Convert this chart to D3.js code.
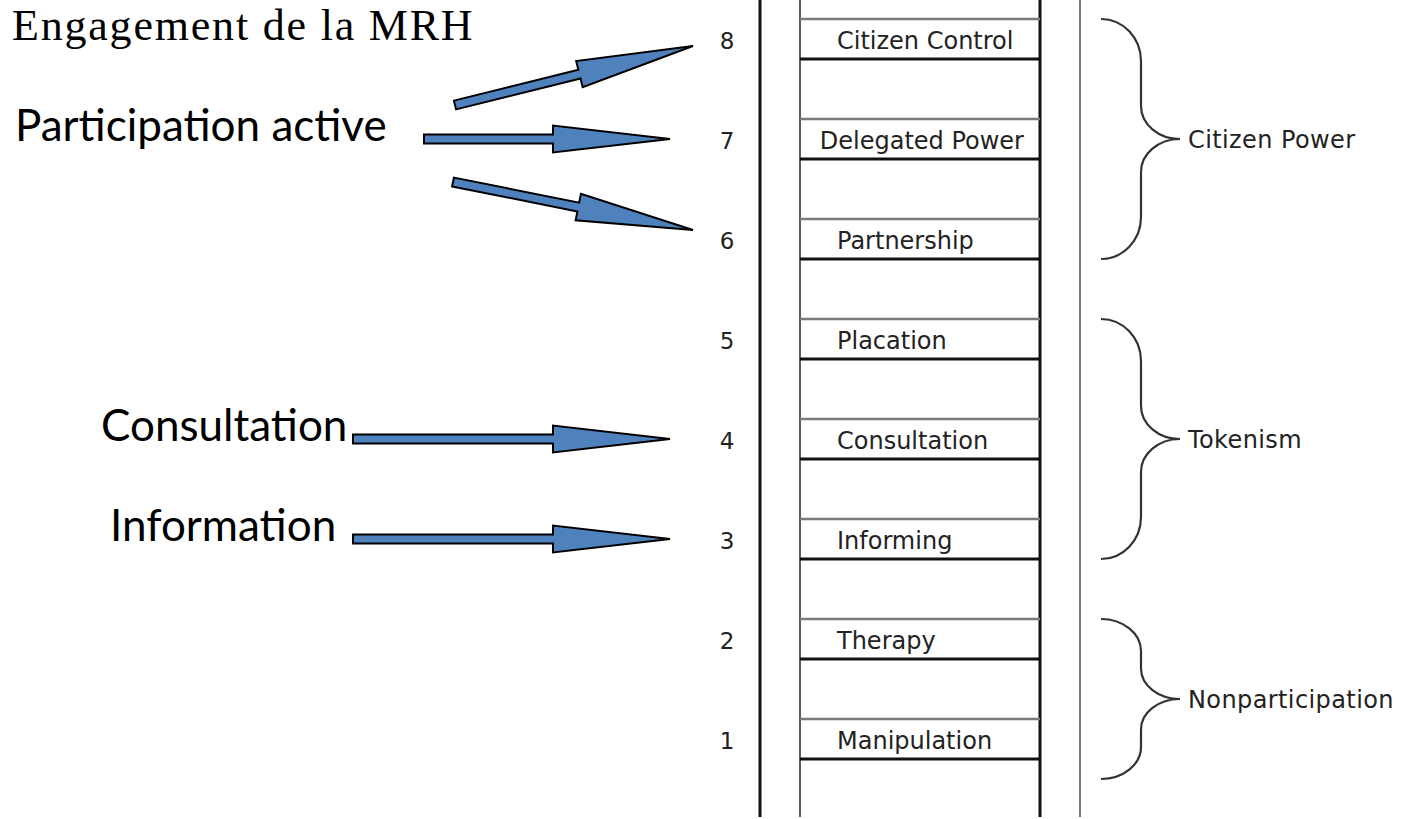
<!DOCTYPE html>
<html>
<head>
<meta charset="utf-8">
<script src="https://cdn.jsdelivr.net/npm/d3@7/dist/d3.min.js"></script>
<style>
	html, body { margin: 0; padding: 0; background: #fff; }
	svg { display: block; }
</style>
</head>
<body>
<div id="container"><svg></svg></div>
<script>
const WIDTH = 1404, HEIGHT = 819;

// DATA
// ladder rungs, from bottom (1) to top (8)
const LEVELS = [1, 2, 3, 4, 5, 6, 7, 8];
const RUNG_LABELS = ["Manipulation", "Therapy", "Informing", "Consultation", "Placation", "Partnership", "Delegated Power", "Citizen Control"];

// braces on the right: name and extent in ladder units
const GROUPS = ["Nonparticipation", "Tokenism", "Citizen Power"];
const GROUP_TOP = [2.2, 5.2, 8.2];
const GROUP_BOTTOM = [0.6, 2.8, 5.8];

// labels on the left and the arrows pointing at the ladder
const TITLE = "Engagement de la MRH";
const SIDE_LABELS = ["Participation active", "Consultation", "Information"];
const SIDE_LEVEL = [7, 4, 3];
const SIDE_X = [15, 101, 110];
const ARROW_FROM = [7.34, 7, 6.57, 4, 3];
const ARROW_TO = [7.93, 7, 6.09, 4, 3];
const ARROW_FROM_X = [455, 424, 453, 353, 353];
const ARROW_TO_X = [693, 670, 693, 670, 670];

let svg = d3.select("svg").attr("width", WIDTH).attr("height", HEIGHT);

// SCALES
let yScale = d3.scaleLinear().domain([1, 8]).range([739, 39]); // centre of each rung
const RUNG_H = 40;
const RAIL = { lo: 760, li: 800, ri: 1040, ro: 1080 };
const LADDER_FONT = "24px";

// RAILS
let rails = svg.append("g").attr("id", "rails");
rails.append("line").attr("x1", RAIL.lo).attr("x2", RAIL.lo).attr("y1", -5).attr("y2", 817).attr("stroke", "#111").attr("stroke-width", 3);
rails.append("line").attr("x1", RAIL.li).attr("x2", RAIL.li).attr("y1", -5).attr("y2", 817).attr("stroke", "#333").attr("stroke-width", 1.6);
rails.append("line").attr("x1", RAIL.ri).attr("x2", RAIL.ri).attr("y1", -5).attr("y2", 817).attr("stroke", "#111").attr("stroke-width", 3);
rails.append("line").attr("x1", RAIL.ro).attr("x2", RAIL.ro).attr("y1", -5).attr("y2", 817).attr("stroke", "#555").attr("stroke-width", 1.6);

// RUNGS
let rung = svg.append("g").attr("id", "rungs")
	.selectAll(".rung")
	.data(LEVELS)
	.enter()
	.append("g")
	.attr("class", "rung");

rung.append("line")
	.attr("x1", RAIL.li).attr("x2", RAIL.ri)
	.attr("y1", d => yScale(d) - RUNG_H / 2).attr("y2", d => yScale(d) - RUNG_H / 2)
	.attr("stroke", "#7a7a7a").attr("stroke-width", 2.4);

rung.append("line")
	.attr("x1", RAIL.li).attr("x2", RAIL.ri)
	.attr("y1", d => yScale(d) + RUNG_H / 2).attr("y2", d => yScale(d) + RUNG_H / 2)
	.attr("stroke", "#111").attr("stroke-width", 3);

rung.append("text")
	.attr("x", 727)
	.attr("y", d => yScale(d) + 10)
	.attr("text-anchor", "middle")
	.style("font-family", "DejaVu Sans")
	.style("font-size", "23px")
	.attr("fill", "#222")
	.text(d => d);

rung.append("text")
	.attr("class", "rung-label")
	.attr("y", d => yScale(d) + 10)
	.style("font-family", "DejaVu Sans")
	.style("font-size", LADDER_FONT)
	.attr("fill", "#222")
	.text((d, i) => RUNG_LABELS[i])
	.each(function() {
		// left aligned, pushed left only when it would overflow the rail
		let w = this.getComputedTextLength();
		d3.select(this).attr("x", Math.min(837, RAIL.ri - 16 - w));
	});

// BRACES
function bracePath(yt, yb) {
	const k = 0.552;
	let x0 = 1101, x1 = 1141, x2 = 1180;
	let ym = (yt + yb) / 2;
	let h = yb - yt;
	let r1 = Math.min(42, h * 0.2);
	let r2 = Math.min(33, h * 0.19);
	let p = d3.path();
	p.moveTo(x0, yt);
	p.bezierCurveTo(x0 + k * (x1 - x0), yt, x1, yt + r1 - k * r1, x1, yt + r1);
	p.lineTo(x1, ym - r2);
	p.bezierCurveTo(x1, ym - r2 + k * r2, x2 - k * (x2 - x1), ym, x2, ym);
	p.bezierCurveTo(x2 - k * (x2 - x1), ym, x1, ym + r2 - k * r2, x1, ym + r2);
	p.lineTo(x1, yb - r1);
	p.bezierCurveTo(x1, yb - r1 + k * r1, x0 + k * (x1 - x0), yb, x0, yb);
	return p.toString();
}

let brace = svg.append("g").attr("id", "braces")
	.selectAll(".brace")
	.data(GROUPS)
	.enter()
	.append("g")
	.attr("class", "brace");

brace.append("path")
	.attr("d", (d, i) => bracePath(yScale(GROUP_TOP[i]), yScale(GROUP_BOTTOM[i])))
	.attr("fill", "none")
	.attr("stroke", "#333")
	.attr("stroke-width", 2.2);

brace.append("text")
	.attr("x", 1188)
	.attr("y", (d, i) => (yScale(GROUP_TOP[i]) + yScale(GROUP_BOTTOM[i])) / 2 + 9)
	.style("font-family", "DejaVu Sans")
	.style("font-size", LADDER_FONT)
	.style("letter-spacing", "0.4px")
	.attr("fill", "#222")
	.text(d => d);

// ARROWS
function arrowPath(x0, y0, x1, y1) {
	const hw = 4.5, headW = 13.5, headL = 117;
	let dx = x1 - x0, dy = y1 - y0;
	let len = Math.sqrt(dx * dx + dy * dy);
	let ux = dx / len, uy = dy / len;
	let nx = -uy, ny = ux;
	let bx = x1 - ux * headL, by = y1 - uy * headL;
	let pts = [
		[x0 + nx * hw, y0 + ny * hw],
		[bx + nx * hw, by + ny * hw],
		[bx + nx * headW, by + ny * headW],
		[x1, y1],
		[bx - nx * headW, by - ny * headW],
		[bx - nx * hw, by - ny * hw],
		[x0 - nx * hw, y0 - ny * hw]
	];
	return "M" + pts.map(p => p.join(",")).join("L") + "Z";
}

svg.append("g").attr("id", "arrows")
	.selectAll("path")
	.data(ARROW_FROM)
	.enter()
	.append("path")
	.attr("d", (d, i) => arrowPath(ARROW_FROM_X[i], yScale(d), ARROW_TO_X[i], yScale(ARROW_TO[i])))
	.attr("fill", "#4f81bd")
	.attr("stroke", "#000")
	.attr("stroke-width", 2)
	.attr("stroke-linejoin", "miter");

// LEFT TEXT
svg.append("text")
	.attr("x", 12)
	.attr("y", 40)
	.style("font-family", "Liberation Serif")
	.style("font-size", "44px")
	.style("letter-spacing", "1.8px")
	.attr("fill", "#000")
	.text(TITLE);

svg.append("g").attr("id", "side-labels")
	.selectAll("text")
	.data(SIDE_LABELS)
	.enter()
	.append("text")
	.attr("x", (d, i) => SIDE_X[i])
	.attr("y", (d, i) => yScale(SIDE_LEVEL[i]) + 2)
	.style("font-family", "Lato")
	.style("font-size", "44px")
	.attr("fill", "#000")
	.text(d => d);
</script>
</body>
</html>
